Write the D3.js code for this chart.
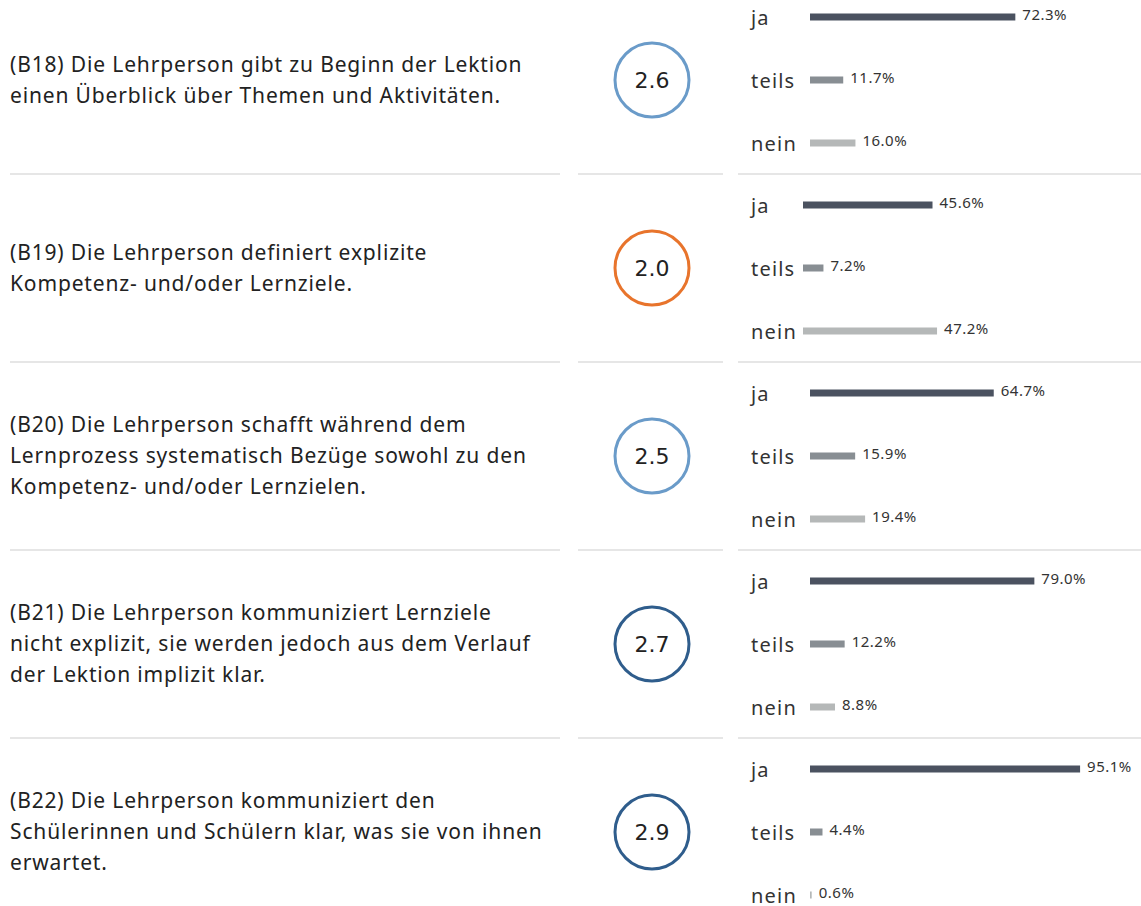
<!DOCTYPE html>
<html>
<head>
<meta charset="utf-8">
<script src="https://cdn.jsdelivr.net/npm/d3@7"></script>
<style>
  body { margin: 0; background: #fff; }
</style>
</head>
<body>
<div id="chart"></div>
<script>
// items (text already wrapped like in the dashboard)
var items = [
    ["(B18) Die Lehrperson gibt zu Beginn der Lektion", "einen Überblick über Themen und Aktivitäten."],
    ["(B19) Die Lehrperson definiert explizite", "Kompetenz- und/oder Lernziele."],
    ["(B20) Die Lehrperson schafft während dem", "Lernprozess systematisch Bezüge sowohl zu den", "Kompetenz- und/oder Lernzielen."],
    ["(B21) Die Lehrperson kommuniziert Lernziele", "nicht explizit, sie werden jedoch aus dem Verlauf", "der Lektion implizit klar."],
    ["(B22) Die Lehrperson kommuniziert den", "Schülerinnen und Schülern klar, was sie von ihnen", "erwartet."]
]
var means = [2.6, 2.0, 2.5, 2.7, 2.9]
var answers = ["ja", "teils", "nein"]
var jaValues = [72.3, 45.6, 64.7, 79.0, 95.1]
var teilsValues = [11.7, 7.2, 15.9, 12.2, 4.4]
var neinValues = [16.0, 47.2, 19.4, 8.8, 0.6]

var dims = {
    width: 1141,
    height: 906,
    rowStep: 188,
    firstCenter: 80,
    textX: 10,
    lineHeight: 31,
    circleX: 652,
    radius: 37,
    labelX: 751,
    barGap: 63,
    barH: 7
}
// row 2 in the original starts its bars a bit further left
var barStart = [810, 803, 810, 810, 810]

var svg = d3.select("#chart").append("svg")
    .attr("width", dims.width)
    .attr("height", dims.height)

var y = d3.scaleLinear().domain([0, 1]).range([dims.firstCenter, dims.firstCenter + dims.rowStep])
var x = d3.scaleLinear().domain([0, 100]).range([0, 284])
var yAns = d3.scalePoint().domain(answers).range([-dims.barGap, dims.barGap])
var barColor = d3.scaleOrdinal().domain(answers).range(["#4b5260", "#888e93", "#b5b8b8"])
var circleColor = d3.scaleThreshold().domain([2.3, 2.65]).range(["#e8742c", "#6a9bc9", "#2f5d8c"])

//separators between rows
var seps = d3.range(means.length - 1)
var segs = [[10, 560], [578, 723], [738, 1141]]
seps.forEach(function(i){
    segs.forEach(function(s){
        svg.append("line")
            .attr("x1", s[0]).attr("x2", s[1])
            .attr("y1", y(i + 0.5)).attr("y2", y(i + 0.5))
            .attr("stroke", "#e6e6e6")
            .attr("stroke-width", 2)
    })
})

var rows = svg.selectAll("g.row")
    .data(items.map(function(lines, i){
        return {lines: lines, mean: means[i], i: i,
            vals: [jaValues[i], teilsValues[i], neinValues[i]]}
    }))
    .enter()
    .append("g")
    .attr("class", "row")
    .attr("transform", d => `translate(0,${y(d.i)})`)

// question text
rows.each(function(d){
    var g = d3.select(this)
    var n = d.lines.length
    g.selectAll("text.q")
        .data(d.lines)
        .enter()
        .append("text")
        .attr("class", "q")
        .attr("x", dims.textX)
        .attr("y", (_, k) => (k - (n - 1) / 2) * dims.lineHeight)
        .attr("dy", "0.35em")
        .attr("font-family", "'Noto Sans', sans-serif")
        .attr("font-size", "21px")
        .attr("letter-spacing", "0.85px")
        .attr("fill", "#222")
        .text(t => t)
})

// mean circle
rows.append("circle")
    .attr("cx", dims.circleX)
    .attr("cy", 0)
    .attr("r", dims.radius)
    .attr("fill", "none")
    .attr("stroke", d => circleColor(d.mean))
    .attr("stroke-width", 3)

rows.append("text")
    .attr("x", dims.circleX)
    .attr("y", 0)
    .attr("dy", "0.36em")
    .attr("text-anchor", "middle")
    .attr("font-family", "'DejaVu Sans', sans-serif")
    .attr("font-size", "22px")
    .attr("fill", "#222")
    .text(d => d.mean.toFixed(1))

// bars
rows.each(function(d){
    var g = d3.select(this)
    var x0 = barStart[d.i]
    var bd = answers.map((a, k) => ({a: a, v: d.vals[k]}))

    g.selectAll("text.cat")
        .data(bd)
        .enter()
        .append("text")
        .attr("class", "cat")
        .attr("x", dims.labelX)
        .attr("y", b => yAns(b.a) + 1)
        .attr("dy", "0.35em")
        .attr("font-family", "'Noto Sans', sans-serif")
        .attr("font-size", "20px")
        .attr("letter-spacing", "1.2px")
        .attr("fill", "#333")
        .text(b => b.a)

    g.selectAll("rect")
        .data(bd)
        .enter()
        .append("rect")
        .attr("x", x0)
        .attr("y", b => yAns(b.a) - dims.barH / 2)
        .attr("width", b => Math.max(x(b.v), 1.5))
        .attr("height", dims.barH)
        .attr("fill", b => barColor(b.a))

    g.selectAll("text.val")
        .data(bd)
        .enter()
        .append("text")
        .attr("class", "val")
        .attr("x", b => x0 + Math.max(x(b.v), 1.5) + 7)
        .attr("y", b => yAns(b.a) - 2)
        .attr("dy", "0.35em")
        .attr("font-family", "'Noto Sans', sans-serif")
        .attr("font-size", "15px")
        .attr("letter-spacing", "0.5px")
        .attr("fill", "#333")
        .text(b => b.v.toFixed(1) + "%")
})
</script>
</body>
</html>
